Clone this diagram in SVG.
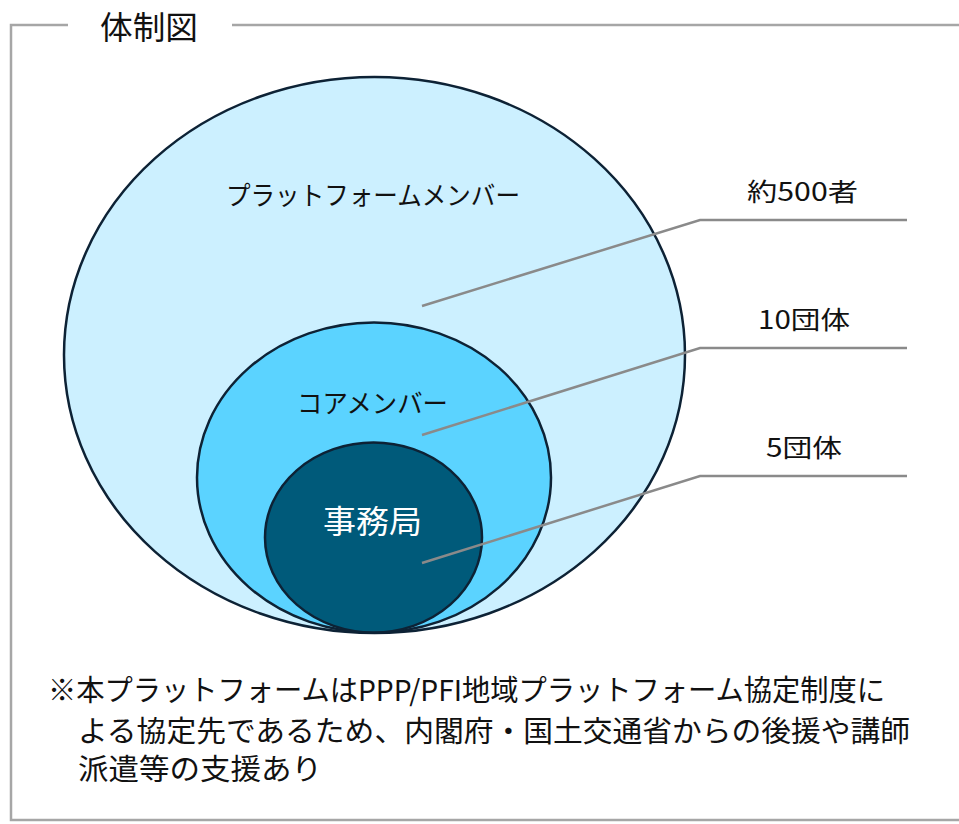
<svg xmlns="http://www.w3.org/2000/svg" width="959" height="824" viewBox="0 0 959 824">
<style>
text{font-family:"Noto Sans CJK JP","Noto Sans",sans-serif;fill:#111}
.frame{fill:none;stroke:#a6a6a6;stroke-width:2.5}
.ell{stroke:#0d2235;stroke-width:2.5}
.lead{fill:none;stroke:#8a8a8a;stroke-width:2.5}
.lbl{font-size:25px;text-anchor:middle}
.note{font-size:29px}
</style>
<rect width="959" height="824" fill="#fff"/>
<g id="frame">
<path class="frame" d="M68,25 H11 V820 H959 M232,25 H959"/>
<text x="149" y="39" font-size="32" text-anchor="middle" textLength="98" lengthAdjust="spacingAndGlyphs">体制図</text>
</g>
<g id="platform">
<ellipse class="ell" cx="374.5" cy="355" rx="310.5" ry="278" fill="#ccf0ff"/>
<text x="373" y="205" font-size="26" text-anchor="middle" textLength="294" lengthAdjust="spacingAndGlyphs">プラットフォームメンバー</text>
</g>
<g id="core">
<ellipse class="ell" cx="374" cy="477.5" rx="177" ry="155" fill="#5bd3ff"/>
<text x="372.5" y="413" font-size="26" text-anchor="middle" textLength="151" lengthAdjust="spacingAndGlyphs">コアメンバー</text>
</g>
<g id="secretariat">
<ellipse class="ell" cx="373.5" cy="537.5" rx="108.5" ry="95" fill="#005a7a"/>
<text x="372.5" y="533" font-size="32" text-anchor="middle" style="fill:#fff" textLength="99" lengthAdjust="spacingAndGlyphs">事務局</text>
</g>
<g id="connectors">
<path class="lead" d="M422,306 L700,220 H907"/>
<path class="lead" d="M422,435 L700,348 H907"/>
<path class="lead" d="M422,563 L700,476 H907"/>
</g>
<g id="labels">
<text class="lbl" x="802.5" y="201" textLength="111" lengthAdjust="spacingAndGlyphs">約500者</text>
<text class="lbl" x="804" y="329" textLength="92" lengthAdjust="spacingAndGlyphs">10団体</text>
<text class="lbl" x="804" y="457" textLength="76" lengthAdjust="spacingAndGlyphs">5団体</text>
</g>
<g id="note">
<text class="note" x="48" y="701" textLength="837" lengthAdjust="spacingAndGlyphs">※本プラットフォームはPPP/PFI地域プラットフォーム協定制度に</text>
<text class="note" x="78" y="742" textLength="832" lengthAdjust="spacingAndGlyphs">よる協定先であるため、内閣府・国土交通省からの後援や講師</text>
<text class="note" x="78" y="780" textLength="244" lengthAdjust="spacingAndGlyphs">派遣等の支援あり</text>
</g>
</svg>
